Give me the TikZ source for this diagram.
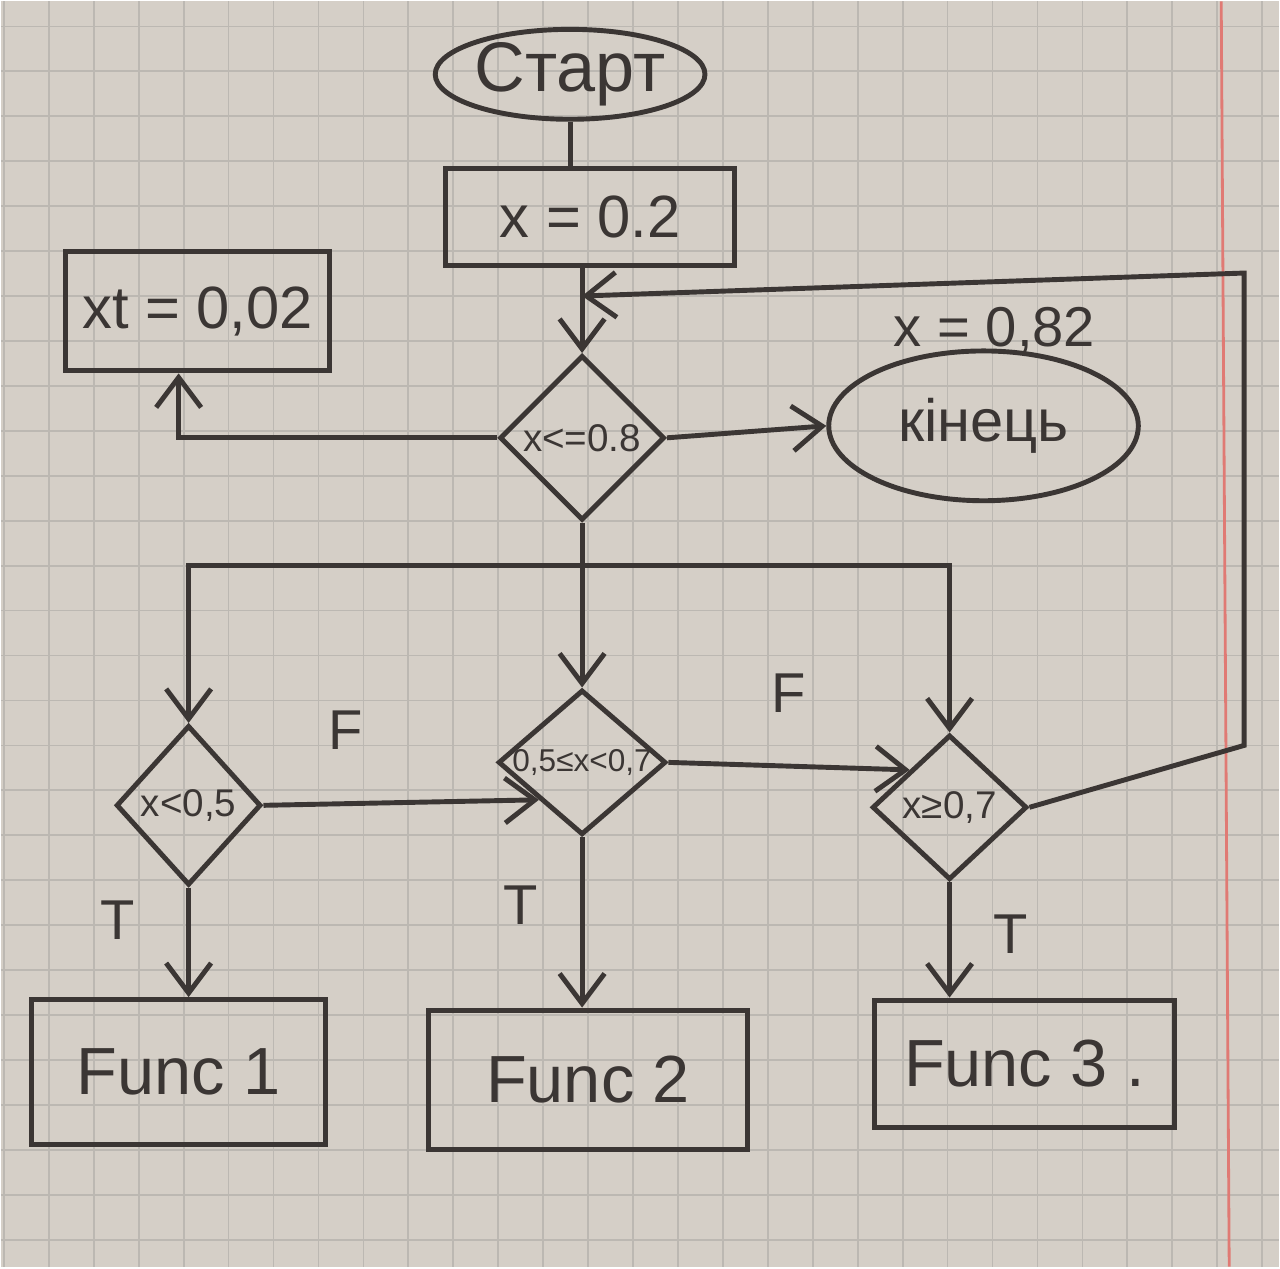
\documentclass[tikz,border=0pt]{standalone}
\usepackage{fontspec}
\setmainfont{Liberation Sans}
\usetikzlibrary{arrows.meta, shapes.geometric}

\definecolor{ink}{HTML}{3B3634}
\definecolor{paper}{HTML}{D5CFC7}
\definecolor{gridc}{HTML}{BCB8B2}
\definecolor{marginc}{HTML}{E07A74}

\begin{document}
\begin{tikzpicture}[
    color=ink, line width=1.4pt,
    box/.style={draw, rectangle, inner sep=0pt, font=\fontsize{17}{20}\selectfont},
    term/.style={draw, ellipse, inner sep=0pt},
    cond/.style={draw, diamond, inner sep=0pt, font=\fontsize{11}{13}\selectfont},
    lbl/.style={font=\fontsize{16}{18}\selectfont},
    arrow/.style={-{Straight Barb[length=3mm, width=4.5mm]}},
    gridline/.style={gridc, line width=0.5pt},
]
    % squared paper
    \fill[paper] (0,0) rectangle (12.8,-12.67);
    \foreach \gx in {0.03,0.48,...,12.8} \draw[gridline] (\gx,0) -- (\gx,-12.67);
    \foreach \gy in {-0.25,-0.70,...,-12.67} \draw[gridline] (0,\gy) -- (12.8,\gy);
    \draw[marginc, line width=0.8pt] (12.22,0) -- (12.30,-12.67);
    \useasboundingbox (0,0) rectangle (12.8,-12.67);

    \node[term, minimum width=2.3cm, minimum height=0.9cm, font=\fontsize{20}{22}\selectfont] (start) at (5.70,-0.73) {Старт};
    \node[box, minimum width=2.9cm, minimum height=0.97cm] (setx) at (5.90,-2.16) {x = 0.2};
    \node[box, minimum width=2.65cm, minimum height=1.2cm] (setxt) at (1.97,-3.10) {xt = 0,02};
    \node[cond, minimum width=1.65cm, minimum height=1.65cm] (cmain) at (5.82,-4.37) {\makebox[0pt]{x<=0.8}};
    \node[term, minimum width=3.1cm, minimum height=1.5cm, font=\fontsize{17}{20}\selectfont] (fin) at (9.84,-4.25) {кінець};
    \node[lbl] (lblx) at (9.95,-3.30) {x = 0,82};

    \node[cond, minimum width=1.45cm, minimum height=1.6cm] (c1) at (1.88,-8.05) {\makebox[0pt]{x<0,5}};
    \node[cond, minimum width=1.68cm, minimum height=1.45cm, font=\fontsize{9}{11}\selectfont] (c2) at (5.82,-7.62) {\makebox[0pt]{0,5≤x<0,7}};
    \node[cond, minimum width=1.55cm, minimum height=1.45cm] (c3) at (9.50,-8.07) {\makebox[0pt]{x≥0,7}};

    \node[box, minimum width=2.95cm, minimum height=1.45cm, font=\fontsize{19}{22}\selectfont] (f1) at (1.78,-10.72) {Func 1};
    \node[box, minimum width=3.2cm, minimum height=1.4cm, font=\fontsize{19}{22}\selectfont] (f2) at (5.88,-10.80) {Func 2};
    \node[box, minimum width=3.0cm, minimum height=1.28cm, font=\fontsize{19}{22}\selectfont] (f3) at (10.25,-10.64) {Func 3 .};

    \coordinate (merge) at (5.82,-2.95);
    \coordinate (bus) at (5.82,-5.65);
    \coordinate (loopr) at (12.45,-7.45);
    \coordinate (loopt) at (12.45,-2.72);

    \draw (start.south) -- (start.south |- setx.north);
    \draw[arrow] (cmain.north |- setx.south) -- (cmain.north);
    \draw[arrow] (cmain.west) -| ([xshift=-1.9mm]setxt.south);
    \draw[arrow] (cmain.east) -- (fin.west);
    \draw (cmain.south) -- (bus);
    \draw[arrow] (bus) -| (c1.north);
    \draw[arrow] (bus) -- (c2.north);
    \draw[arrow] (bus) -| (c3.north);

    \draw[arrow] (c1.east) -- node[pos=0.3, above=4mm, lbl] {F} (c2.south west);
    \draw[arrow] (c2.east) -- node[pos=0.5, above=4mm, lbl] {F} (c3.north west);
    \draw[arrow] (c3.east) -- (loopr) -- (loopt) -- (merge);

    \draw[arrow] (c1.south) -- node[pos=0.3, left=4mm, lbl] {T} (c1.south |- f1.north);
    \draw[arrow] (c2.south) -- node[pos=0.4, left=3mm, lbl] {T} (c2.south |- f2.north);
    \draw[arrow] (c3.south) -- node[pos=0.45, right=3mm, lbl] {T} (c3.south |- f3.north);
\end{tikzpicture}
\end{document}
